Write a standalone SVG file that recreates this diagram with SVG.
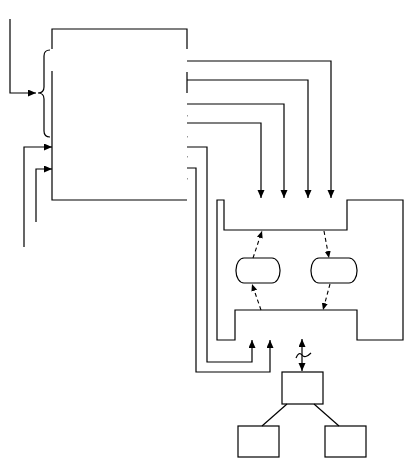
<svg xmlns="http://www.w3.org/2000/svg" width="404" height="458" viewBox="0 0 404 458">
<style>
.ln{fill:none;stroke:#000;stroke-width:1.2}
.dash{fill:none;stroke:#000;stroke-width:1.1;stroke-dasharray:4 3}
.shape{fill:#fff;stroke:#000;stroke-width:1.2}
.dot{fill:#999;stroke:none}
</style>
<defs>
<marker id="ah" markerUnits="userSpaceOnUse" markerWidth="9" markerHeight="8" refX="8" refY="3.5" orient="auto-start-reverse">
<path d="M0,0 L8,3.5 L0,7 Z" fill="#000"/>
</marker>
<marker id="ahs" markerUnits="userSpaceOnUse" markerWidth="8" markerHeight="7" refX="7" refY="3" orient="auto">
<path d="M0,0 L7,3 L0,6 Z" fill="#000"/>
</marker>
</defs>
<rect width="404" height="458" fill="#fff"/>
<g id="main-box">
<path class="ln" d="M52,49 V29 H187 V49"/>
<path class="ln" d="M52,71 V200 H187"/>
<path class="ln" d="M187,72 V93"/>
<rect class="dot" x="187" y="115" width="1" height="1.5"/>
<rect class="dot" x="187" y="136" width="1" height="1.5"/>
<rect class="dot" x="187" y="156" width="1" height="1.5"/>
<rect class="dot" x="187" y="178" width="1" height="1.5"/>
</g>
<g id="brace">
<path class="ln" d="M50,50 Q44,50 44,56 V87 Q44,93 38,93 Q44,93 44,99 V131 Q44,137 50,137"/>
</g>
<g id="container">
<path class="shape" d="M217,200 H224 V230 H347 V200 H403 V340 H357 V310 H235 V340 H217 Z"/>
</g>
<g id="pill-left">
<rect class="shape" x="236" y="258" width="44" height="25" rx="8" ry="12"/>
</g>
<g id="pill-right">
<rect class="shape" x="311" y="258" width="46" height="25" rx="8" ry="12"/>
</g>
<g id="box-parent">
<rect class="shape" x="282" y="372" width="41" height="32"/>
</g>
<g id="box-left">
<rect class="shape" x="238" y="426" width="41" height="31"/>
</g>
<g id="box-right">
<rect class="shape" x="325" y="426" width="41" height="31"/>
</g>
<g id="connectors">
<path class="ln" d="M10,19 V93 H36" marker-end="url(#ah)"/>
<path class="ln" d="M24,247 V147 H52" marker-end="url(#ah)"/>
<path class="ln" d="M36,222 V169 H52" marker-end="url(#ah)"/>
<path class="ln" d="M187,61 H331 V198" marker-end="url(#ah)"/>
<path class="ln" d="M187,80 H308 V198" marker-end="url(#ah)"/>
<path class="ln" d="M187,104 H284 V198" marker-end="url(#ah)"/>
<path class="ln" d="M187,123 H261 V198" marker-end="url(#ah)"/>
<path class="ln" d="M187,147 H207 V362 H252 V340" marker-end="url(#ah)"/>
<path class="ln" d="M187,168 H196 V372 H270 V340" marker-end="url(#ah)"/>
<path class="ln" d="M302,339 V371" marker-start="url(#ah)" marker-end="url(#ah)"/>
<path class="ln" d="M296,358 Q299,351 302,355 T311,353"/>
<path class="dash" d="M253,258 L262,231" marker-end="url(#ahs)"/>
<path class="dash" d="M324,231 L329,258" marker-end="url(#ahs)"/>
<path class="dash" d="M261,310 L252,284" marker-end="url(#ahs)"/>
<path class="dash" d="M330,284 L323,310" marker-end="url(#ahs)"/>
<path class="ln" d="M287,404 L262,426"/>
<path class="ln" d="M314,404 L339,426"/>
</g>
</svg>
